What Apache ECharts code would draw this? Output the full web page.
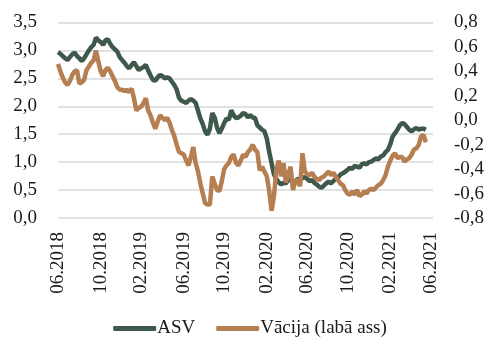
<!DOCTYPE html>
<html>
<head>
<meta charset="utf-8">
<script src="https://cdn.jsdelivr.net/npm/echarts@6/dist/echarts.min.js"></script>
<style>html,body{margin:0;padding:0;background:#fff}#c{width:500px;height:360px}</style>
</head>
<body>
<div id="c"></div>
<script>
// Weekly observations starting 2018-06-01
var startDate = '2018-06-01';
var weeksTotal = 159;
var categories = [];
(function(){
  var d = new Date(startDate + 'T00:00:00Z');
  for (var i = 0; i < weeksTotal; i++) {
    var m = d.getUTCMonth() + 1, day = d.getUTCDate();
    categories.push(d.getUTCFullYear() + '-' + (m < 10 ? '0' + m : m) + '-' + (day < 10 ? '0' + day : day));
    d = new Date(d.getTime() + 7 * 86400000);
  }
})();

var seriesNames = ['ASV', 'Vācija (labā ass)'];

var asv = [
2.97,2.94,2.90,2.86,2.83,2.88,2.93,2.96,2.90,2.86,
2.81,2.86,2.93,3.00,3.06,3.10,3.23,3.18,3.15,3.10,
3.18,3.20,3.12,3.06,3.02,2.98,2.88,2.83,2.78,2.72,
2.68,2.74,2.79,2.72,2.65,2.68,2.70,2.74,2.64,2.55,
2.47,2.46,2.52,2.56,2.54,2.50,2.52,2.50,2.44,2.38,
2.30,2.15,2.10,2.08,2.06,2.10,2.13,2.10,2.06,1.92,
1.78,1.68,1.55,1.49,1.60,1.88,1.80,1.62,1.52,1.60,
1.70,1.78,1.76,1.93,1.84,1.79,1.80,1.83,1.88,1.86,
1.80,1.84,1.80,1.79,1.66,1.62,1.58,1.55,1.42,1.18,
0.98,0.78,0.70,0.64,0.60,0.63,0.62,0.68,0.70,0.62,
0.66,0.70,0.68,0.72,0.73,0.70,0.66,0.68,0.63,0.60,
0.56,0.54,0.58,0.62,0.65,0.62,0.66,0.70,0.72,0.78,
0.80,0.83,0.86,0.90,0.88,0.93,0.92,0.90,0.96,0.98,
0.96,1.00,1.01,1.04,1.07,1.05,1.10,1.12,1.18,1.22,
1.32,1.46,1.52,1.58,1.66,1.70,1.68,1.63,1.58,1.55,
1.59,1.61,1.58,1.60,1.60,1.58,null,null,null
];

var vacija = [
0.46,0.40,0.35,0.31,0.29,0.32,0.37,0.40,0.41,0.30,
0.31,0.33,0.41,0.44,0.47,0.49,0.57,0.48,0.40,0.36,
0.41,0.43,0.40,0.36,0.32,0.27,0.25,0.25,0.24,0.25,
0.23,0.26,0.18,0.08,0.10,0.11,0.14,0.18,0.08,0.04,
-0.02,-0.07,-0.01,0.04,0.02,0.00,0.02,-0.02,-0.08,-0.13,
-0.20,-0.26,-0.27,-0.28,-0.33,-0.37,-0.30,-0.22,-0.35,-0.42,
-0.52,-0.60,-0.68,-0.69,-0.69,-0.46,-0.52,-0.57,-0.58,-0.50,
-0.40,-0.37,-0.35,-0.30,-0.28,-0.35,-0.37,-0.33,-0.28,-0.30,
-0.26,-0.24,-0.20,-0.24,-0.26,-0.41,-0.38,-0.42,-0.46,-0.58,
-0.74,-0.62,-0.40,-0.33,-0.46,-0.35,-0.51,-0.44,-0.38,-0.57,
-0.50,-0.49,-0.54,-0.27,-0.42,-0.44,-0.45,-0.43,-0.46,-0.48,
-0.49,-0.47,-0.46,-0.44,-0.42,-0.45,-0.43,-0.46,-0.49,-0.52,
-0.53,-0.57,-0.60,-0.61,-0.58,-0.61,-0.57,-0.62,-0.61,-0.58,
-0.60,-0.57,-0.56,-0.57,-0.55,-0.53,-0.52,-0.49,-0.45,-0.38,
-0.33,-0.29,-0.27,-0.31,-0.30,-0.30,-0.34,-0.32,-0.31,-0.28,
-0.24,-0.23,-0.20,-0.13,-0.12,-0.18,null,null,null
];

var labelMonths = [2, 6, 10];

function fmt(v) {
  if (Math.abs(v) < 1e-9) v = 0;
  return v.toFixed(1).replace('.', ',');
}
function isLabel(idx) {
  var s = categories[idx];
  var m = parseInt(s.slice(5, 7), 10), day = parseInt(s.slice(8, 10), 10);
  return labelMonths.indexOf(m) >= 0 && day <= 7;
}

var font = 'Liberation Serif';
var chart = echarts.init(document.getElementById('c'));
chart.setOption({
  animation: false,
  textStyle: { fontFamily: font, color: '#1a1a1a' },
  grid: { left: 58, right: 67, top: 22.5, bottom: 142 },
  legend: {
    bottom: 17, left: 'center',
    icon: 'roundRect', itemWidth: 43, itemHeight: 5, itemGap: 21,
    textStyle: { fontFamily: font, fontSize: 19, color: '#1a1a1a', padding: [0, 0, 0, -4] },
    data: seriesNames
  },
  xAxis: {
    type: 'category', data: categories, boundaryGap: false,
    axisLine: { show: false }, axisTick: { show: false },
    axisLabel: {
      rotate: 90, margin: 14, fontSize: 19, fontFamily: font, color: '#1a1a1a',
      interval: function (idx) { return isLabel(idx); },
      formatter: function (v) { return v.slice(5, 7) + '.' + v.slice(0, 4); }
    }
  },
  yAxis: [
    {
      type: 'value', min: 0, max: 3.5, interval: 0.5,
      axisLine: { show: false }, axisTick: { show: false },
      splitLine: { lineStyle: { color: '#d9d9d9', width: 1.5 } },
      axisLabel: { formatter: fmt, fontSize: 19, margin: 21, color: '#1a1a1a', fontFamily: font }
    },
    {
      type: 'value', min: -0.8, max: 0.8, interval: 0.2, position: 'right',
      axisLine: { show: false }, axisTick: { show: false },
      splitLine: { show: false },
      axisLabel: { formatter: fmt, fontSize: 19, margin: 21, color: '#1a1a1a', fontFamily: font }
    }
  ],
  series: [
    {
      name: seriesNames[0], type: 'line', data: asv, yAxisIndex: 0,
      showSymbol: false, symbol: 'none',
      lineStyle: { color: '#3e594b', width: 4.5 }, itemStyle: { color: '#3e594b' }
    },
    {
      name: seriesNames[1], type: 'line', data: vacija, yAxisIndex: 1,
      showSymbol: false, symbol: 'none',
      lineStyle: { color: '#b67f51', width: 4.5 }, itemStyle: { color: '#b67f51' }
    }
  ]
});
</script>
</body>
</html>
